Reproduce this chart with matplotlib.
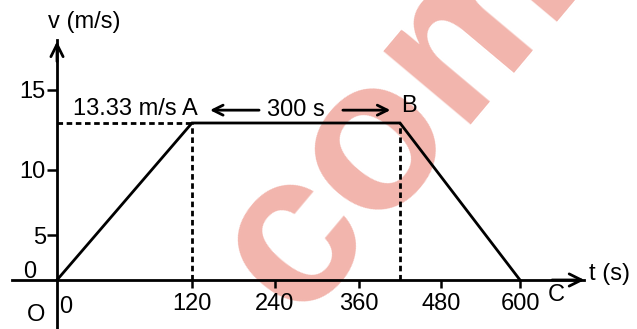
import numpy as np
import matplotlib
matplotlib.use('Agg')
import matplotlib.pyplot as plt

# -----------------------------
# Data
# -----------------------------
t_points = [0, 120, 420, 600]          # O, A, B, C  (s)
v_points = [0, 13.33, 13.33, 0]        # velocity (m/s)
x_ticks = [120, 240, 360, 480, 600]
x_tick_labels = ['120', '240', '360', '480', '600']
y_ticks = [5, 10, 15]
y_tick_labels = ['5', '10', '15']
point_labels = ['A', 'B', 'C']

# -----------------------------
# The book figure is not drawn to scale -> piecewise axis scales
# -----------------------------
tk = [-80, 0, 120, 240, 360, 480, 600, 760]
pk = [0, 57, 192, 275, 359, 441, 520, 637]
vk = [-3.5, 0, 5, 10, v_points[1], 15, 22]
qk = [0, 49, 94, 159, 206, 239, 329]

def fwd_x(t):
    return np.interp(t, tk, pk)

def inv_x(p):
    return np.interp(p, pk, tk)

def fwd_y(v):
    return np.interp(v, vk, qk)

def inv_y(q):
    return np.interp(q, qk, vk)

plt.rcParams['font.family'] = ['Liberation Sans', 'DejaVu Sans']
fs = 17
lw = 2.0

fig = plt.figure(figsize=(6.37, 3.29), dpi=100)
ax = fig.add_axes([0, 0, 1, 1])
ax.set_xscale('function', functions=(fwd_x, inv_x))
ax.set_yscale('function', functions=(fwd_y, inv_y))
ax.set_xlim(tk[0], tk[-1])
ax.set_ylim(vk[0], vk[-1])
ax.patch.set_alpha(0)

# watermark
ax.text(0.625, 0.65, 'com', transform=ax.transAxes, fontsize=155, fontweight='bold',
        color='#f2b5ad', rotation=50, rotation_mode='anchor', ha='center', va='center',
        zorder=0, clip_on=True)

# axes lines through the origin
for side in ['top', 'right']:
    ax.spines[side].set_visible(False)
ax.spines['left'].set_position(('data', 0))
ax.spines['bottom'].set_position(('data', 0))
ax.spines['left'].set_bounds(vk[0], 18.9)
ax.spines['bottom'].set_bounds(-63, 688)
ax.spines['left'].set_linewidth(lw)
ax.spines['bottom'].set_linewidth(lw)
ax.annotate('', xy=(0, 19.0), xytext=(0, 17.0),
            arrowprops=dict(arrowstyle='->', lw=lw, mutation_scale=22))
ax.annotate('', xy=(692, 0), xytext=(640, 0),
            arrowprops=dict(arrowstyle='->', lw=lw, mutation_scale=22))

ax.set_xticks(x_ticks)
ax.set_xticklabels(x_tick_labels)
ax.set_yticks(y_ticks)
ax.set_yticklabels(y_tick_labels)
ax.minorticks_off()
ax.tick_params(axis='x', direction='out', length=6, width=1.8, pad=3, labelsize=fs)
ax.tick_params(axis='y', direction='out', length=7, width=1.8, pad=1, labelsize=fs)

ax.text(-38, 0.9, '0', fontsize=fs, ha='center', va='center')
ax.text(8, -1.9, '0', fontsize=fs, ha='center', va='center')
ax.text(-30, -2.5, 'O', fontsize=fs, ha='center', va='center')
ax.text(-12, 20.3, 'v (m/s)', fontsize=fs, ha='left', va='center')
ax.text(694, 0.7, 't (s)', fontsize=fs, ha='left', va='center')

# v-t graph
ax.plot(t_points, v_points, color='black', lw=lw, solid_joinstyle='miter')
dash = (0, (2.0, 1.3))
ax.plot([0, t_points[1]], [v_points[1], v_points[1]], color='black', lw=lw, ls=dash)
ax.plot([t_points[1], t_points[1]], [0, v_points[1]], color='black', lw=lw, ls=dash)
ax.plot([t_points[2], t_points[2]], [0, v_points[2]], color='black', lw=lw, ls=dash)

ax.annotate('13.33 m/s ' + point_labels[0], xy=(t_points[1], v_points[1]),
            xytext=(4, 2), textcoords='offset points', ha='right', va='bottom', fontsize=fs)
ax.annotate(point_labels[1], xy=(t_points[2], v_points[2]),
            xytext=(1, 4), textcoords='offset points', ha='left', va='bottom', fontsize=fs)
ax.annotate(point_labels[2], xy=(t_points[3], 0),
            xytext=(20, -11), textcoords='offset points', ha='left', va='center', fontsize=fs)

# 300 s interval between A and B
mid_t = (t_points[1] + t_points[2]) / 2
arrow_v = v_points[1] + 0.65
ax.text(mid_t, arrow_v, '300 s', ha='center', va='center', fontsize=fs)
ax.annotate('', xy=(142, arrow_v), xytext=(221, arrow_v),
            arrowprops=dict(arrowstyle='->', lw=lw, mutation_scale=18))
ax.annotate('', xy=(410, arrow_v), xytext=(333, arrow_v),
            arrowprops=dict(arrowstyle='->', lw=lw, mutation_scale=18))

fig.savefig('out.png', dpi=100)
